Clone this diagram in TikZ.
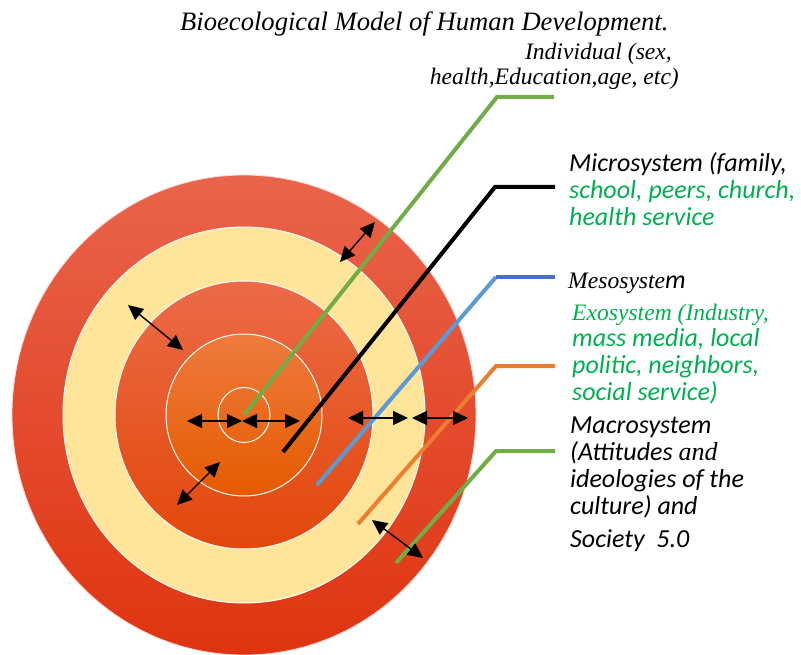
\documentclass[tikz,border=0pt]{standalone}
\usepackage{fontspec}
\setmainfont{Liberation Serif}
\newfontfamily\carlito{Carlito}
\usetikzlibrary{arrows.meta}

\definecolor{outtop}{HTML}{E9644B}
\definecolor{outbot}{HTML}{DF3410}
\definecolor{paleyellow}{HTML}{FFE59A}
\definecolor{inntop}{HTML}{EC6A47}
\definecolor{innbot}{HTML}{E2480A}
\definecolor{midtop}{HTML}{EE7B3E}
\definecolor{midbot}{HTML}{E65A00}
\definecolor{leafgreen}{HTML}{70AD47}
\definecolor{textgreen}{HTML}{00B050}
\definecolor{skyblue}{HTML}{5B9BD5}
\definecolor{darkblue}{HTML}{4472C4}
\definecolor{lineorange}{HTML}{ED7D31}

\newcommand{\lines}[2]{\begin{tabular}[t]{@{}#1@{}}#2\end{tabular}}

\tikzset{
  leader/.style={line width=4pt},
  both/.style={{Triangle[length=15pt,width=14pt]}-{Triangle[length=15pt,width=14pt]}, line width=1.4pt},
  serifit/.style={font=\itshape\fontsize{23.6}{25}\selectfont, inner sep=0pt},
  sansit/.style={font=\carlito\itshape\fontsize{26}{27}\selectfont, anchor=base west, inner sep=0pt},
}

\begin{document}
\begin{tikzpicture}[x=1pt, y=-1pt]
  \useasboundingbox (0,0) rectangle (801,655);
  \coordinate (cen) at (244,415);

  % rings
  \draw[top color=outtop, bottom color=outbot, draw=red!15, line width=0.8pt]
    (cen) ellipse [x radius=232pt, y radius=240pt];
  \draw[fill=paleyellow, draw=white, line width=1pt]
    (cen) ellipse [x radius=181pt, y radius=188pt];
  \draw[top color=inntop, bottom color=innbot, draw=white, line width=1pt]
    (cen) ellipse [x radius=129pt, y radius=134pt];
  \draw[top color=midtop, bottom color=midbot, draw=white, line width=1pt]
    (cen) ellipse [x radius=78pt, y radius=81pt];
  \draw[draw=white, line width=1pt]
    (cen) ellipse [x radius=26pt, y radius=27.5pt];

  % labels
  \node[font=\itshape\fontsize{26.6}{28}\selectfont, anchor=base west, inner sep=0pt] (title) at (180,31)
    {Bioecological Model of Human Development.};
  \node[serifit, anchor=base east] (indiv) at (679,60)
    {\lines{r}{Individual (sex,\hspace*{7pt}\\health,Education,age, etc)}};
  \node[sansit] (micro) at (569,172)
    {\lines{l}{Microsystem (family,\\\textcolor{textgreen}{school, peers, church,}\\\textcolor{textgreen}{health service}}};
  \node[sansit] (meso) at (568,288)
    {{\rmfamily\fontsize{23.6}{25}\selectfont Mesosyste}m};
  \node[sansit, text=textgreen, font=\carlito\itshape\fontsize{26}{26.7}\selectfont] (exo) at (572,320)
    {\lines{l}{{\rmfamily\fontsize{23.6}{26.7}\selectfont Exosystem (Industry,}\\mass media, local\\politic, neighbors,\\social service)}};
  \node[sansit, font=\carlito\itshape\fontsize{26}{27.3}\selectfont] (macro) at (570,433)
    {\lines{l}{Macrosystem\\(Attitudes {\rmfamily\fontsize{26}{27.3}\selectfont and}\\ideologies of the\\culture) and\\[5pt]Society\ \ 5.0}};

  % leader lines
  \coordinate (indivend) at (554,97);
  \coordinate (microend) at (555,187);
  \coordinate (mesoend) at (555,277);
  \coordinate (exoend) at (555,366);
  \coordinate (macroend) at (555,451);
  \draw[leader, leafgreen] (cen) -- (497,97) -- (indivend);
  \draw[leader, black] (283,452) -- (495,187) -- (microend);
  \draw[leader, skyblue] (317,485) -- (496,277);
  \draw[leader, darkblue] (496,277) -- (mesoend);
  \draw[leader, lineorange] (358,524) -- (496,366) -- (exoend);
  \draw[leader, leafgreen] (396,563) -- (496,451) -- (macroend);

  % double arrows
  \foreach \xa/\ya/\xb/\yb in {340/262/375/222, 128/305/183/350, 187/421/242/421,
      242/421/300/421, 348/418/408/418, 412/418/468/418, 177/505/220/462, 372/520/423/558}
    \draw[both] (\xa,\ya) -- (\xb,\yb);
\end{tikzpicture}
\end{document}
